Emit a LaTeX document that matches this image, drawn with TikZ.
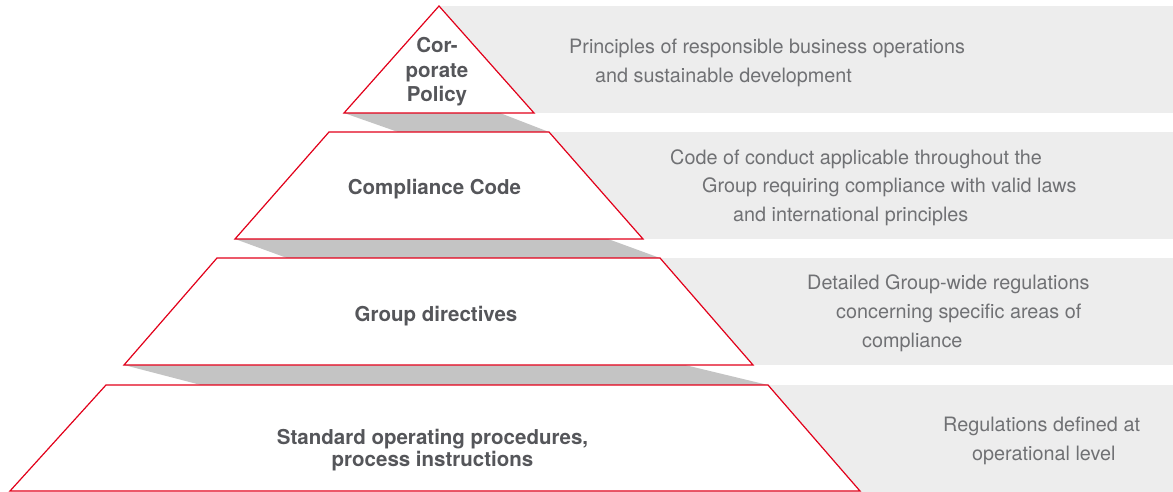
\documentclass[tikz,border=0pt]{standalone}
\usepackage{fontspec}
\setmainfont{TeX Gyre Heros}
\usepackage{tikz}

\definecolor{pyrred}{HTML}{E2001A}
\definecolor{panelgray}{HTML}{EDEDED}
\definecolor{shadowgray}{HTML}{C4C4C4}
\definecolor{namegray}{HTML}{55565A}
\definecolor{textgray}{HTML}{707174}

\begin{document}
\begin{tikzpicture}[x=1pt, y=-1pt,
        tier/.style={draw=pyrred, fill=white, line width=1.2pt, line join=miter},
        tierpanel/.style={fill=panelgray},
        tiershadow/.style={fill=shadowgray},
        tiername/.style={text=namegray, font=\fontsize{20.5}{24.5}\selectfont\bfseries, align=center, inner sep=0pt, anchor=base},
        tiertext/.style={text=textgray, font=\fontsize{19.8}{29}\selectfont, align=left, inner sep=0pt, anchor=base west}]

        \useasboundingbox (0,0) rectangle (1173,492);

        \fill [tierpanel] (440,6) rectangle (1173,113);
        \fill [tierpanel] (440,132) rectangle (1173,239);
        \fill [tierpanel] (440,258) rectangle (1173,365);
        \fill [tierpanel] (440,385) rectangle (1173,492);

        \fill [tiershadow] (344,113) -- (500,113) -- (549,132) -- (398,132) -- cycle;
        \fill [tiershadow] (235,239) -- (608,239) -- (660,258) -- (287,258) -- cycle;
        \fill [tiershadow] (124,365) -- (685,365) -- (768,385) -- (201,385) -- cycle;

        \draw [tier] (439,6) -- (534,113) -- (344,113) -- cycle;
        \draw [tier] (329,132) -- (549,132) -- (643,239) -- (235,239) -- cycle;
        \draw [tier] (217,258) -- (660,258) -- (753,365) -- (124,365) -- cycle;
        \draw [tier] (106,385) -- (768,385) -- (860,491) -- (10,491) -- cycle;

        \node [tiername] (policy) at (437,102) {Cor-\\porate\\Policy};
        \node [tiername] (code) at (434.5,194) {Compliance Code};
        \node [tiername] (directives) at (436,321) {Group directives};
        \node [tiername, font=\fontsize{20.5}{21.5}\selectfont\bfseries] (procedures) at (432.5,466) {Standard operating procedures,\\process instructions};

        \node [tiertext] (policytext) at (569,83) {Principles of responsible business operations\\\hspace*{26pt}and sustainable development};
        \node [tiertext] (codetext) at (670,222) {Code of conduct applicable throughout the\\\hspace*{32pt}Group requiring compliance with valid laws\\\hspace*{63pt}and international principles};
        \node [tiertext] (directivestext) at (807,347) {Detailed Group-wide regulations\\\hspace*{29pt}concerning specific areas of\\\hspace*{55pt}compliance};
        \node [tiertext] (procedurestext) at (943,460) {Regulations defined at\\\hspace*{29pt}operational level};

\end{tikzpicture}
\end{document}
